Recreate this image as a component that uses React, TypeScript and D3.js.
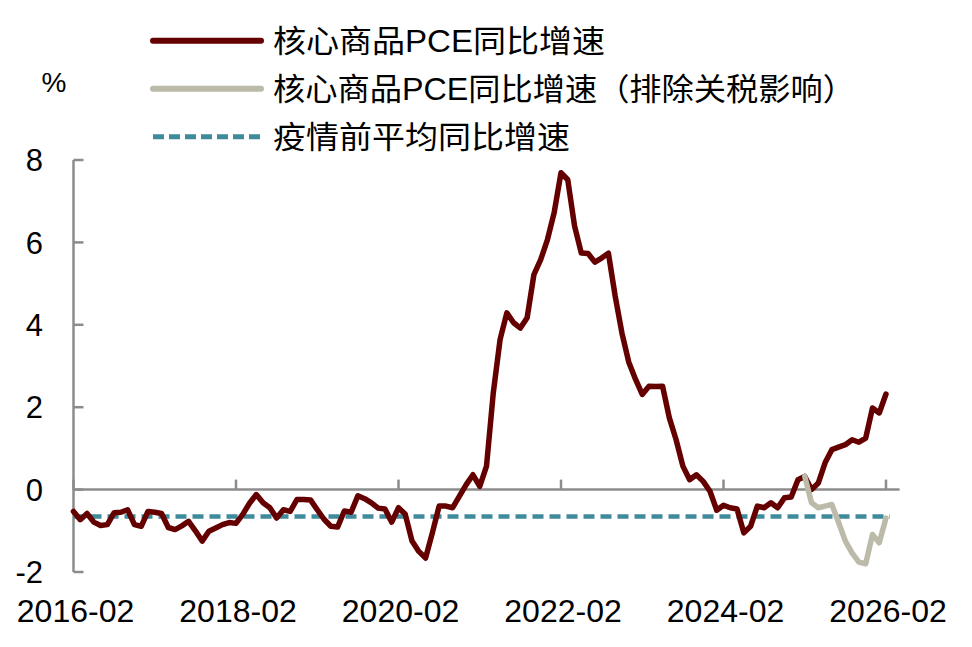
import React from 'react';
import * as d3 from 'd3';

// 核心商品PCE同比增速，2016-02 起逐月
const startMonth = new Date(2016, 1, 1);
const coreGoods: number[] = [
  -0.53, -0.73, -0.58, -0.79, -0.87, -0.85, -0.56, -0.55, -0.49, -0.85, -0.89, -0.53,
  -0.55, -0.58, -0.92, -0.97, -0.88, -0.77, -1.0, -1.25, -1.01, -0.93, -0.85, -0.8,
  -0.82, -0.6, -0.33, -0.12, -0.32, -0.44, -0.69, -0.49, -0.53, -0.24, -0.24, -0.25,
  -0.49, -0.72, -0.89, -0.91, -0.52, -0.55, -0.15, -0.22, -0.32, -0.45, -0.47, -0.79,
  -0.44, -0.6, -1.25, -1.5, -1.66, -1.05, -0.4, -0.4, -0.44, -0.16, 0.12, 0.36,
  0.08, 0.57, 2.35, 3.64, 4.29, 4.05, 3.92, 4.17, 5.22, 5.58, 6.07, 6.73,
  7.69, 7.52, 6.4, 5.74, 5.73, 5.52, 5.62, 5.74, 4.7, 3.8, 3.1, 2.68,
  2.31, 2.51, 2.5, 2.51, 1.74, 1.21, 0.57, 0.24, 0.36, 0.2, -0.04, -0.5,
  -0.38, -0.44, -0.47, -1.05, -0.89, -0.4, -0.44, -0.32, -0.44, -0.2, -0.18, 0.24,
  0.32, 0.0, 0.16, 0.65, 0.97, 1.03, 1.09, 1.21, 1.15, 1.25, 1.98, 1.86,
  2.32,
];
// 排除关税影响，从 2025-02 开始
const exTariffStart = 108;
const coreGoodsExTariff: number[] = [
  0.32, -0.32, -0.44, -0.4, -0.36, -0.8, -1.25, -1.54, -1.76, -1.8, -1.09, -1.29, -0.69,
];
const preCovidAvg = -0.65;

const yTicks = [-2, 0, 2, 4, 6, 8];
const xTickLabels = ['2016-02', '2018-02', '2020-02', '2022-02', '2024-02', '2026-02'];
const legendLabels = ['核心商品PCE同比增速', '核心商品PCE同比增速（排除关税影响）', '疫情前平均同比增速'];
const legendWidths = [332, 582, 297];

const colors = { core: '#640000', exTariff: '#BCBBA9', avg: '#3F8B9C', axis: '#8C8C8C' };
const font = '"Liberation Sans", Arial, "Noto Sans CJK SC", sans-serif';

export default function App() {
  const months = d3.timeMonth.range(startMonth, d3.timeMonth.offset(startMonth, coreGoods.length));
  const monthLabel = d3.timeFormat('%Y-%m');

  const x = d3.scaleLinear().domain([0, 120]).range([73.5, 886]);
  const y = d3.scaleLinear().domain([-2, 8]).range([572, 160]);

  const line = d3.line<number>()
    .x((_, i) => x(i))
    .y(d => y(d));
  const lineEx = d3.line<number>()
    .x((_, i) => x(i + exTariffStart))
    .y(d => y(d));

  const tickIdx = xTickLabels.map(l => months.findIndex(m => monthLabel(m) === l));
  const xEnd = x(122);

  return (
    <svg width={972} height={647} style={{ position: 'absolute', left: 0, top: 0, background: '#fff' }}
      fontFamily={font}>
      {/* y axis */}
      <line x1={x(0)} x2={x(0)} y1={y(8)} y2={y(-2)} stroke={colors.axis} strokeWidth={2.5} />
      {yTicks.map(t => (
        <g key={t}>
          <line x1={x(0)} x2={x(0) + 10} y1={y(t)} y2={y(t)} stroke={colors.axis} strokeWidth={2.5} />
          <text x={43} y={y(t)} dy="0.36em" textAnchor="end" fontSize={31}>{t}</text>
        </g>
      ))}
      <text x={54} y={82} dy="0.36em" textAnchor="middle" fontSize={28}>%</text>

      {/* x axis on zero */}
      <line x1={x(0)} x2={xEnd} y1={y(0)} y2={y(0)} stroke={colors.axis} strokeWidth={2.5} />
      {tickIdx.map((i, k) => (
        <g key={k}>
          <line x1={x(i)} x2={x(i)} y1={y(0)} y2={y(0) - 10} stroke={colors.axis} strokeWidth={2.5} />
          <text x={x(i) + 2} y={622} textAnchor="middle" fontSize={32}>{xTickLabels[k]}</text>
        </g>
      ))}

      {/* series */}
      <line x1={x(0)} x2={x(coreGoods.length - 1) + 4} y1={y(preCovidAvg)} y2={y(preCovidAvg)}
        stroke={colors.avg} strokeWidth={4.5} strokeDasharray="11,6" />
      <path d={line(coreGoods) ?? ''} fill="none" stroke={colors.core} strokeWidth={5.5}
        strokeLinejoin="round" strokeLinecap="round" />
      <path d={lineEx(coreGoodsExTariff) ?? ''} fill="none" stroke={colors.exTariff} strokeWidth={5.5}
        strokeLinejoin="round" strokeLinecap="round" />

      {/* legend */}
      {legendLabels.map((l, i) => {
        const ly = 40.7 + i * 48;
        const c = [colors.core, colors.exTariff, colors.avg][i];
        return (
          <g key={l}>
            <line x1={153} x2={261} y1={ly} y2={ly} stroke={c} strokeWidth={i === 2 ? 5 : 6}
              strokeLinecap={i === 2 ? 'butt' : 'round'} strokeDasharray={i === 2 ? '11,5' : undefined} />
            <text x={273} y={ly} dy="0.36em" fontSize={31} textLength={legendWidths[i]}
              lengthAdjust="spacingAndGlyphs">{l}</text>
          </g>
        );
      })}
    </svg>
  );
}
